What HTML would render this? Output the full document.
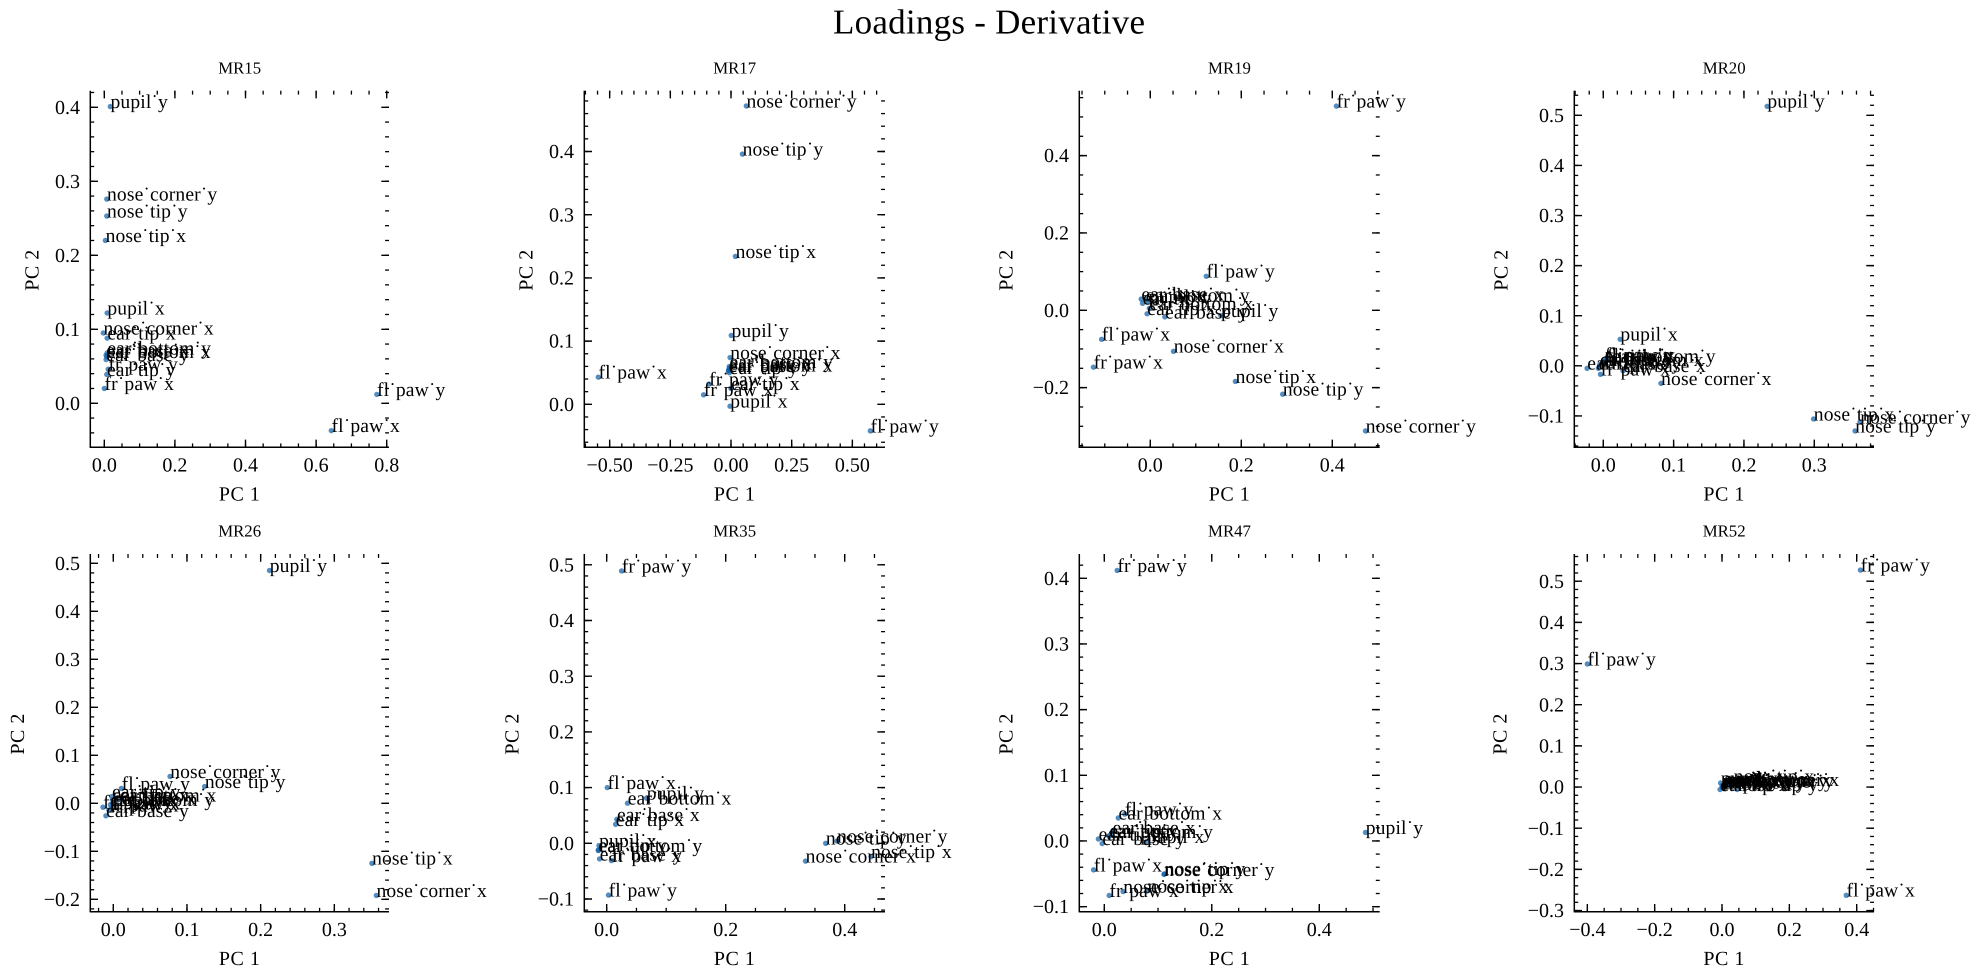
<!DOCTYPE html>
<html lang="en">
<head>
<meta charset="utf-8">
<title>Loadings - Derivative</title>
<style>
  html, body { margin: 0; padding: 0; background: #fff; }
  svg { display: block; }
  text { font-family: "Liberation Serif", "DejaVu Serif", serif; fill: #000; text-rendering: geometricPrecision; }
</style>
</head>
<body>
<svg id="figure" xmlns="http://www.w3.org/2000/svg" width="1979" height="978" viewBox="0 0 1979 978">
  <rect x="0" y="0" width="1979" height="978" fill="#ffffff"/>
  <text x="833" y="33.6" font-size="35" textLength="312" lengthAdjust="spacing">Loadings - Derivative</text>
</svg>
<script>
// Keypoint labels, in the same order as every pc1*/pc2* array below
const keypoints = ['pupil_x','pupil_y','nose_tip_x','nose_tip_y','nose_corner_x','nose_corner_y','ear_tip_x','ear_tip_y','ear_base_x','ear_base_y','ear_bottom_x','ear_bottom_y','fl_paw_x','fl_paw_y','fr_paw_x','fr_paw_y'];
const sessions = ['MR15','MR17','MR19','MR20','MR26','MR35','MR47','MR52'];

const pc1MR15 = [0.008,0.017,0.003,0.007,-0.003,0.007,0.008,0.007,0.005,0.005,0.007,0.008,0.643,0.772,0,0.011];
const pc2MR15 = [0.122,0.401,0.220,0.253,0.095,0.276,0.088,0.039,0.065,0.059,0.063,0.068,-0.037,0.012,0.020,0.046];
const pc1MR17 = [-0.004,0.001,0.018,0.047,-0.004,0.063,0,-0.007,-0.007,-0.010,-0.010,-0.007,-0.547,0.574,-0.113,-0.091];
const pc2MR17 = [-0.003,0.109,0.234,0.396,0.074,0.472,0.025,0.050,0.057,0.053,0.054,0.060,0.043,-0.042,0.015,0.032];
const pc1MR19 = [-0.004,0.155,0.187,0.291,0.051,0.473,-0.007,-0.017,-0.020,0.032,-0.002,-0.010,-0.107,0.123,-0.125,0.409];
const pc2MR19 = [0.022,-0.014,-0.184,-0.217,-0.106,-0.312,-0.009,0.018,0.029,-0.017,0.005,0.027,-0.075,0.088,-0.147,0.528];
const pc1MR20 = [0.024,0.233,0.299,0.358,0.082,0.365,-0.023,0.002,0.028,-0.007,-0.005,0.012,0.005,0.002,-0.004,0];
const pc2MR20 = [0.053,0.518,-0.106,-0.130,-0.035,-0.112,-0.005,0.009,-0.010,-0.005,0.002,0.009,0.011,0.012,-0.017,0.004];
const pc1MR26 = [0,0.212,0.351,0.124,0.357,0.077,0.009,-0.002,0,-0.010,-0.001,-0.004,-0.002,0.011,-0.006,-0.014];
const pc2MR26 = [-0.003,0.485,-0.125,0.035,-0.192,0.056,0.008,0.014,0,-0.026,0.007,-0.003,-0.010,0.031,-0.014,-0.008];
const pc1MR35 = [-0.013,0.067,0.444,0.368,0.334,0.387,0.015,-0.014,0.017,-0.012,0.035,-0.014,0.001,0.003,0.008,0.025];
const pc2MR35 = [-0.004,0.081,-0.024,0,-0.032,0.004,0.034,-0.012,0.043,-0.028,0.072,-0.013,0.100,-0.093,-0.031,0.489];
const pc1MR47 = [0.079,0.486,0.080,0.112,0.035,0.111,-0.011,0.009,0.015,-0.004,0.026,0.009,-0.020,0.038,0.009,0.024];
const pc2MR47 = [-0.001,0.013,-0.076,-0.050,-0.077,-0.051,0.003,0.008,0.013,-0.004,0.035,0.007,-0.044,0.041,-0.083,0.412];
const pc1MR52 = [-0.004,0,0.034,0.045,0.020,0.004,-0.006,0.008,0.012,0.002,0.016,0.006,0.369,-0.400,0.002,0.411];
const pc2MR52 = [0.010,0.003,0.014,-0.006,0.006,0.002,-0.006,0.004,0.008,0,0.006,0.004,-0.263,0.299,-0.002,0.527];

const pc1Series = [pc1MR15,pc1MR17,pc1MR19,pc1MR20,pc1MR26,pc1MR35,pc1MR47,pc1MR52];
const pc2Series = [pc2MR15,pc2MR17,pc2MR19,pc2MR20,pc2MR26,pc2MR35,pc2MR47,pc2MR52];

// Axis limits
const xLimits = [[-0.0397,0.8065],[-0.6045,0.6345],[-0.156,0.5042],[-0.0412,0.3849],[-0.0312,0.3742],[-0.0376,0.4677],[-0.0465,0.5124],[-0.4387,0.4514]];
const yLimits = [[-0.0595,0.4224],[-0.068,0.4962],[-0.3543,0.5679],[-0.1626,0.5491],[-0.2258,0.5194],[-0.1228,0.5194],[-0.1077,0.437],[-0.3028,0.5661]];

// Tick labels
const xTickLabels = [
  ['0.0','0.2','0.4','0.6','0.8'],
  ['-0.50','-0.25','0.00','0.25','0.50'],
  ['0.0','0.2','0.4'],
  ['0.0','0.1','0.2','0.3'],
  ['0.0','0.1','0.2','0.3'],
  ['0.0','0.2','0.4'],
  ['0.0','0.2','0.4'],
  ['-0.4','-0.2','0.0','0.2','0.4']
];
const yTickLabels = [
  ['0.0','0.1','0.2','0.3','0.4'],
  ['0.0','0.1','0.2','0.3','0.4'],
  ['-0.2','0.0','0.2','0.4'],
  ['-0.1','0.0','0.1','0.2','0.3','0.4','0.5'],
  ['-0.2','-0.1','0.0','0.1','0.2','0.3','0.4','0.5'],
  ['-0.1','0.0','0.1','0.2','0.3','0.4','0.5'],
  ['-0.1','0.0','0.1','0.2','0.3','0.4'],
  ['-0.3','-0.2','-0.1','0.0','0.1','0.2','0.3','0.4','0.5']
];
const xMinorSteps = [0.05,0.05,0.05,0.02,0.02,0.05,0.05,0.05];
const yMinorSteps = [0.02,0.02,0.05,0.02,0.02,0.02,0.02,0.02];

// Figure layout (not data)
const columnEdges = [[90.3,389],[584.3,885],[1079.3,1379.7],[1574.3,1874]];
const rowEdges = [[90.7,447.3],[554,911.7]];
const yTitleX = [38.3,532.7,1012.3,1507.3,24,518.3,1012.3,1506.7];

const SVG_NS = 'http://www.w3.org/2000/svg';
const figure = document.getElementById('figure');
const FS = 20;
const LABEL_FS = 19.6;
const LABEL_SPACING = 0.12;

function svgEl(parent, tag, attrs, content) {
  const node = document.createElementNS(SVG_NS, tag);
  for (const k in attrs) node.setAttribute(k, attrs[k]);
  if (content !== undefined) node.textContent = content;
  parent.appendChild(node);
  return node;
}
function linearScale(domain, range) {
  return v => range[0] + (v - domain[0]) * (range[1] - range[0]) / (domain[1] - domain[0]);
}
function pretty(s) { return s.replace('-', '\u2212'); }
function minorValues(lim, step) {
  const out = [];
  for (let k = Math.ceil(lim[0] / step - 1e-6); k * step <= lim[1] + 1e-9; k++) out.push(k * step);
  return out;
}
function tickLine(parent, x1, y1, x2, y2, w) {
  return svgEl(parent, 'line', { x1, y1, x2, y2, stroke: '#000', 'stroke-width': w });
}

sessions.forEach((session, p) => {
  const [L, R] = columnEdges[p % 4];
  const [T, B] = rowEdges[p < 4 ? 0 : 1];
  const xScale = linearScale(xLimits[p], [L, R]);
  const yScale = linearScale(yLimits[p], [B, T]);
  const MAJ = 7.7, MIN = 3.9;

  const g = svgEl(figure, 'g', {});
  
  

  const title = svgEl(g, 'text', { x: (L + R) / 2, y: T - 17.4, 'font-size': 16.8, 'text-anchor': 'middle' }, session);
  
  

  // minor ticks on all four sides
  const minorGroup = svgEl(g, 'g', {});
  
  
  minorValues(xLimits[p], xMinorSteps[p]).forEach(v => {
    const x = xScale(v);
    tickLine(minorGroup, x, B, x, B - MIN, 1.3);
    tickLine(minorGroup, x, T, x, T + MIN, 1.3);
  });
  minorValues(yLimits[p], yMinorSteps[p]).forEach(v => {
    const y = yScale(v);
    tickLine(minorGroup, L, y, L + MIN, y, 1.3);
    tickLine(minorGroup, R, y, R - MIN, y, 1.3);
  });

  // major ticks + labels
  xTickLabels[p].forEach(label => {
    const x = xScale(parseFloat(label));
    const tick = svgEl(g, 'path', { d: `M${x} ${B}V${B - MAJ}M${x} ${T}V${T + MAJ}`, stroke: '#000', 'stroke-width': 1.4, fill: 'none' });
    
    
    const t = svgEl(g, 'text', { x: x, y: B + 24.4, 'font-size': FS, 'text-anchor': 'middle' }, pretty(label));
    
    
  });
  yTickLabels[p].forEach(label => {
    const y = yScale(parseFloat(label));
    const tick = svgEl(g, 'path', { d: `M${L} ${y}H${L + MAJ}M${R} ${y}H${R - MAJ}`, stroke: '#000', 'stroke-width': 1.4, fill: 'none' });
    
    
    const t = svgEl(g, 'text', { x: L - 10.3, y: y + 6.6, 'font-size': FS, 'text-anchor': 'end' }, pretty(label));
    
    
  });

  // spines (left and bottom only)
  const spineL = svgEl(g, 'line', { x1: L, y1: T, x2: L, y2: B + 0.7, stroke: '#000', 'stroke-width': 1.5 });
  
  
  const spineB = svgEl(g, 'line', { x1: L, y1: B, x2: R, y2: B, stroke: '#000', 'stroke-width': 1.5 });
  
  

  // axis titles
  const xt = svgEl(g, 'text', { x: (L + R) / 2, y: B + 53.4, 'font-size': FS, 'text-anchor': 'middle', 'letter-spacing': 0.5 }, 'PC 1');
  
  
  const yt = svgEl(g, 'text', { x: 0, y: 0, 'font-size': FS, 'text-anchor': 'middle', 'letter-spacing': 0.5, transform: `translate(${yTitleX[p]} ${(T + B) / 2 + 1}) rotate(-90)` }, 'PC 2');
  
  

  // scatter points
  keypoints.forEach((kp, i) => {
    const dot = svgEl(g, 'circle', { cx: xScale(pc1Series[p][i]), cy: yScale(pc2Series[p][i]), r: 2.7, fill: '#0C5DA5', 'fill-opacity': 0.7 });
    
    
  });
  // point labels on top
  keypoints.forEach((kp, i) => {
    const text = kp.replace(/_/g, '\u02D9');
    const lbl = svgEl(g, 'text', { x: xScale(pc1Series[p][i]) + 0.2, y: yScale(pc2Series[p][i]) + 1.4, 'font-size': LABEL_FS, 'letter-spacing': LABEL_SPACING }, text);
    
    
  });
});
</script>
</body>
</html>
